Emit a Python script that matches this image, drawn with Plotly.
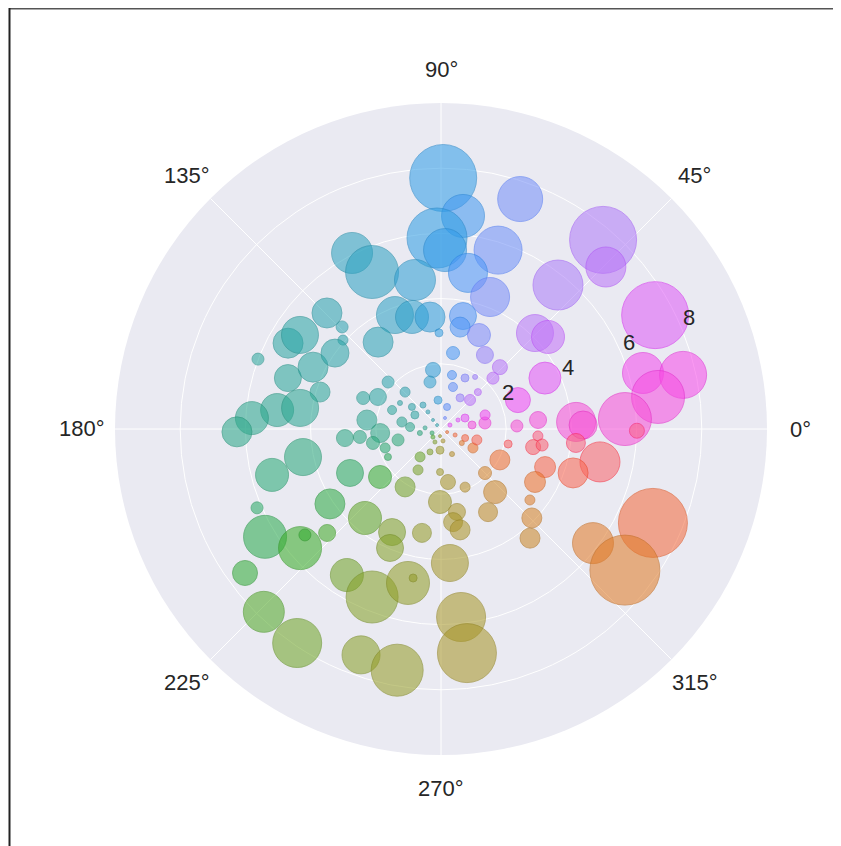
import math
import plotly.graph_objects as go

# ---- data ----
theta_deg = [
    89.5, 71.0, 84.1, 91.2, 88.7, 72.3, 80.2, 69.6, 116.8, 113.7, 99.9, 112.0, 104.5, 95.6, 91.2,
    79.0, 79.4, 68.0, 134.5, 134.1, 137.8, 125.9, 50.9, 45.6, 40.7, 49.4, 44.5, 28.0, 15.5, 12.6,
    8.4, 3.1, 359.5, 3.0, 1.6, 354.1, 348.3, 341.6, 336.1, 323.1, 322.5,
    81.0, 59.3, 46.4, 44.4, 26.1, 20.6, 5.3, 2.3, 355.9, 347.4, 348.9, 351.0, 339.9, 330.6, 321.4,
    315.6, 309.2, 332.3, 315.0, 310.6, 299.5, 329.3, 343.0, 339.4, 292.5, 277.5, 268.7, 269.2, 280.9,
    277.4, 280.7, 259.6, 273.8, 238.2, 240.7, 233.1, 267.3, 293.7, 218.2, 205.8, 214.0, 229.5, 244.6,
    246.8,
    138.4, 134.2, 153.1, 158.3, 158.8, 142.8, 173.1, 183.8, 185.4, 185.6, 194.3, 191.6, 198.7, 207.8,
    169.8, 176.3, 151.7, 147.6,
    97.7, 103.2, 95.9, 78.5, 74.1, 64.8, 58.5, 45.0, 45.0, 56.8, 74.7, 7.8, 17.7, 24.6, 7.4,
    127.4, 131.6, 135.0, 70.0, 24.0, 333.0, 262.0, 204.0, 337.0, 176.0, 279.5, 245.0, 27.9, 190.8,
    326.0, 244.4, 126.9, 225.0,
    150.7, 146.3, 159.1, 161.6, 154.2, 163.0, 173.4, 171.5, 176.7, 180.8, 191.5, 195.2, 203.2, 211.5,
    220.2, 217.9, 222.4, 216.3, 225.9, 236.1, 144.4,
    237.2, 247.7, 257.9, 259.4, 276.1, 276.6, 250.5, 259.7,
]
r_vals = [
    7.70, 7.46, 6.57, 5.86, 5.49, 5.76, 4.86, 4.32, 6.05, 5.26, 4.64, 3.77, 3.55, 3.45, 2.95,
    3.53, 3.18, 3.11, 4.99, 4.36, 4.06, 3.29, 5.69, 4.12, 4.33, 7.64, 7.09, 7.44, 6.43, 7.61,
    6.73, 5.65, 6.01, 4.15, 4.36, 4.16, 4.98, 4.27, 7.11, 5.83, 7.11,
    2.36, 2.64, 2.62, 2.23, 3.55, 2.52, 2.99, 2.33, 2.98, 2.11, 2.88, 3.14, 3.40, 3.31, 3.49,
    3.90, 4.32, 2.04, 1.91, 2.55, 2.93, 1.14, 1.15, 0.79, 1.93, 1.64, 1.32, 2.24, 2.59,
    2.88, 3.15, 3.24, 4.12, 2.09, 1.44, 1.07, 0.65, 0.84, 2.38, 3.10, 4.11, 3.59, 3.50,
    3.97,
    2.17, 1.58, 2.17, 2.57, 1.61, 1.12, 2.29, 1.87, 2.96, 2.50, 1.36, 2.13, 1.81, 1.84,
    1.22, 0.95, 0.91, 1.49,
    1.83, 1.48, 0.89, 1.69, 1.34, 1.73, 1.12, 1.26, 1.60, 1.91, 0.70, 1.36, 1.42, 0.81, 0.96,
    0.66, 0.37, 0.17, 0.36, 0.30, 0.21, 0.22, 0.30, 0.47, 0.49, 0.37, 0.44, 0.59, 0.66,
    0.77, 0.78, 0.92, 0.35,
    5.38, 5.20, 6.01, 4.95, 4.36, 3.88, 5.06, 4.37, 5.81, 6.26, 4.32, 5.37, 6.14, 6.33,
    5.66, 5.29, 4.73, 7.46, 7.81, 7.91, 4.00,
    5.33, 5.57, 4.83, 4.65, 5.80, 6.92, 7.35, 7.52,
]
magnitude = [
    67, 45, 43, 60, 43, 48, 39, 39, 41, 53, 41, 37, 33, 30, 8,
    27, 20, 23, 30, 12, 10, 30, 50, 37, 33, 67, 40, 67, 41, 47,
    53, 53, 15, 39, 28, 19, 40, 30, 69, 41, 70,
    13, 17, 15, 12, 32, 25, 17, 12, 10, 8, 15, 12, 21, 21, 10,
    20, 20, 20, 13, 23, 19, 10, 10, 7, 10, 15, 7, 23, 17,
    19, 20, 19, 37, 20, 10, 10, 8, 5, 23, 27, 30, 33, 27,
    27,
    12, 10, 17, 13, 9, 7, 20, 19, 17, 13, 12, 13, 10, 7,
    10, 9, 8, 5,
    15, 12, 8, 9, 9, 8, 8, 11, 7, 5, 7, 12, 10, 8, 8,
    4, 3, 3, 3, 4, 3, 3, 4, 4, 4, 4, 4, 4, 5,
    5, 6, 6, 4,
    30, 37, 12, 27, 30, 20, 33, 37, 33, 30, 37, 33, 12, 43,
    43, 12, 17, 25, 41, 49, 28,
    33, 52, 43, 8, 49, 59, 38, 52,
]
radial_ticks = [2, 4, 6, 8]
r_max = 10
angle_ticks = [0, 45, 90, 135, 180, 225, 270, 315]
angle_labels = ["0°", "45°", "90°", "135°", "180°", "225°", "270°", "315°"]

# ---- HSLuv (husl) colour helper ----
_M = [[3.240969941904521, -1.537383177570093, -0.498610760293],
      [-0.96924363628087, 1.87596750150772, 0.041555057407175],
      [0.055630079696993, -0.20397695888897, 1.056971514242878]]
_REF_U, _REF_V = 0.19783000664283, 0.46831999493879
_KAPPA, _EPS = 903.2962962, 0.0088564516


def _bounds(L):
    sub1 = (L + 16) ** 3 / 1560896
    sub2 = sub1 if sub1 > _EPS else L / _KAPPA
    out = []
    for m1, m2, m3 in _M:
        for t in (0, 1):
            top1 = (284517 * m1 - 94839 * m3) * sub2
            top2 = (838422 * m3 + 769860 * m2 + 731718 * m1) * L * sub2 - 769860 * t * L
            bottom = (632260 * m3 - 126452 * m2) * sub2 + 126452 * t
            out.append((top1 / bottom, top2 / bottom))
    return out


def _max_chroma(L, H):
    hr = math.radians(H)
    best = float("inf")
    for slope, inter in _bounds(L):
        length = inter / (math.sin(hr) - slope * math.cos(hr))
        if length >= 0:
            best = min(best, length)
    return best


def husl_rgb(H, S, L):
    C = _max_chroma(L, H) / 100 * S
    hr = math.radians(H)
    U, V = C * math.cos(hr), C * math.sin(hr)
    vu = U / (13 * L) + _REF_U
    vv = V / (13 * L) + _REF_V
    Y = L / _KAPPA if L <= 8 else ((L + 16) / 116) ** 3
    X = -(9 * Y * vu) / ((vu - 4) * vv - vu * vv)
    Z = (9 * Y - 15 * vv * Y - vv * X) / (3 * vv)
    rgb = []
    for row in _M:
        c = row[0] * X + row[1] * Y + row[2] * Z
        c = 12.92 * c if c <= 0.0031308 else 1.055 * c ** (1 / 2.4) - 0.055
        rgb.append(int(round(255 * min(max(c, 0.0), 1.0))))
    return rgb


def make_scale(alpha, light):
    stops = []
    n = 36
    for i in range(n + 1):
        f = i / n
        h = (324.0 * (1 - f)) % 360
        r, g, b = husl_rgb(h, 92, light)
        stops.append([f, f"rgba({r},{g},{b},{alpha})"])
    return stops


fill_scale = make_scale(0.8, 62)
edge_scale = make_scale(0.8, 54)

fig = go.Figure()
fig.add_trace(go.Scatterpolar(
    r=r_vals,
    theta=theta_deg,
    mode="markers",
    marker=dict(
        size=magnitude,
        sizemode="diameter",
        color=theta_deg,
        colorscale=fill_scale,
        cmin=0, cmax=360,
        showscale=False,
        line=dict(width=1, color=theta_deg, colorscale=edge_scale, cmin=0, cmax=360),
    ),
    hoverinfo="skip",
    showlegend=False,
))

# page body has an 8px margin, so the figure is sized to fit the window
W, H = 833, 838
ml, mr, mt, mb = 107, 74, 95, 91
pw, ph = W - ml - mr, H - mt - mb
R_PX = pw / 2.0           # radius of the polar disc in px
LABEL_PX = 359.0          # distance of angular label centres from the pole
RLAB_ANGLE = 22.5
FONT = "Liberation Sans, Arial, sans-serif"
TXT = "#262626"

annotations = []
for a, lab in zip(angle_ticks, angle_labels):
    ar = math.radians(a)
    annotations.append(dict(
        xref="paper", yref="paper",
        x=0.5 + LABEL_PX * math.cos(ar) / pw,
        y=0.5 + LABEL_PX * math.sin(ar) / ph,
        text=lab, showarrow=False, xanchor="center", yanchor="middle",
        font=dict(family=FONT, size=22, color=TXT),
    ))
for v in radial_ticks:
    rp = v / r_max * R_PX
    ar = math.radians(RLAB_ANGLE)
    annotations.append(dict(
        xref="paper", yref="paper",
        x=0.5 + (rp * math.cos(ar) + 7) / pw,
        y=0.5 + (rp * math.sin(ar) + 12) / ph,
        text=str(v), showarrow=False, xanchor="center", yanchor="middle",
        font=dict(family=FONT, size=22, color=TXT),
    ))


def px_x(x):
    return (x - ml) / pw


def px_y(y):
    return (H - mb - y) / ph


fig.update_layout(
    width=W, height=H,
    margin=dict(l=ml, r=mr, t=mt, b=mb, pad=0),
    paper_bgcolor="white",
    font=dict(family=FONT, size=22, color=TXT),
    polar=dict(
        bgcolor="#EAEAF2",
        domain=dict(x=[0, 1], y=[0, 1]),
        radialaxis=dict(
            range=[0, r_max],
            tickmode="array",
            tickvals=radial_ticks,
            showticklabels=False,
            angle=RLAB_ANGLE,
            showline=False,
            ticks="",
            gridcolor="white",
            gridwidth=1.2,
        ),
        angularaxis=dict(
            tickmode="array",
            tickvals=angle_ticks,
            ticktext=angle_labels,
            showticklabels=False,
            direction="counterclockwise",
            rotation=0,
            showline=False,
            ticks="",
            gridcolor="white",
            gridwidth=1.2,
        ),
    ),
    annotations=annotations,
    shapes=[
        dict(type="line", xref="paper", yref="paper",
             x0=px_x(1.5), x1=px_x(W), y0=px_y(0.75), y1=px_y(0.75),
             line=dict(color="#555555", width=1.5)),
        dict(type="line", xref="paper", yref="paper",
             x0=px_x(1.5), x1=px_x(1.5), y0=px_y(0), y1=px_y(H),
             line=dict(color="#222222", width=2)),
    ],
)

fig.write_html("out.html")
